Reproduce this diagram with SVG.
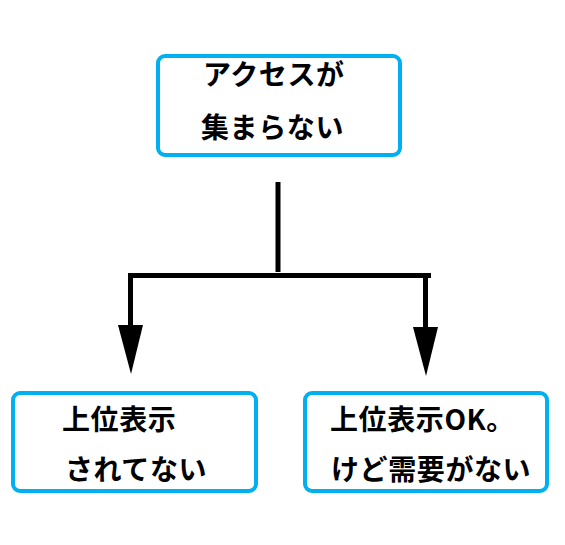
<svg xmlns="http://www.w3.org/2000/svg" width="565" height="545" viewBox="0 0 565 545">
<defs>
<style>
.box{fill:#fff;stroke:#00b0f0;stroke-width:4}
.t{font-family:"Noto Sans CJK JP","Noto Sans",sans-serif;font-weight:bold;font-size:28px;letter-spacing:0.6px;fill:#000}
.ln{stroke:#000;stroke-width:5;fill:none}
</style>
</defs>
<rect width="565" height="545" fill="#fff"/>
<g id="node-top">
<rect class="box" x="158" y="56" width="242" height="99" rx="7"/>
<text class="t" x="203" y="85">アクセスが</text>
<text class="t" x="201" y="138">集まらない</text>
</g>
<g id="node-left">
<rect class="box" x="13" y="393" width="243" height="98" rx="7"/>
<text class="t" x="62" y="430">上位表示</text>
<text class="t" x="65" y="480">されてない</text>
</g>
<g id="node-right">
<rect class="box" x="305" y="393" width="242" height="98" rx="7"/>
<text class="t" x="330" y="430">上位表示OK。</text>
<text class="t" x="331" y="480">けど需要がない</text>
</g>
<g id="connectors">
<line class="ln" x1="278" y1="182" x2="278" y2="272"/>
<line class="ln" x1="128" y1="275.5" x2="431" y2="275.5"/>
<line class="ln" x1="130.5" y1="273" x2="130.5" y2="326"/>
<line class="ln" x1="425.5" y1="273" x2="425.5" y2="328"/>
<polygon points="118,325 143,325 131,374" fill="#000"/>
<polygon points="413,327 438,327 426,376" fill="#000"/>
</g>
</svg>
